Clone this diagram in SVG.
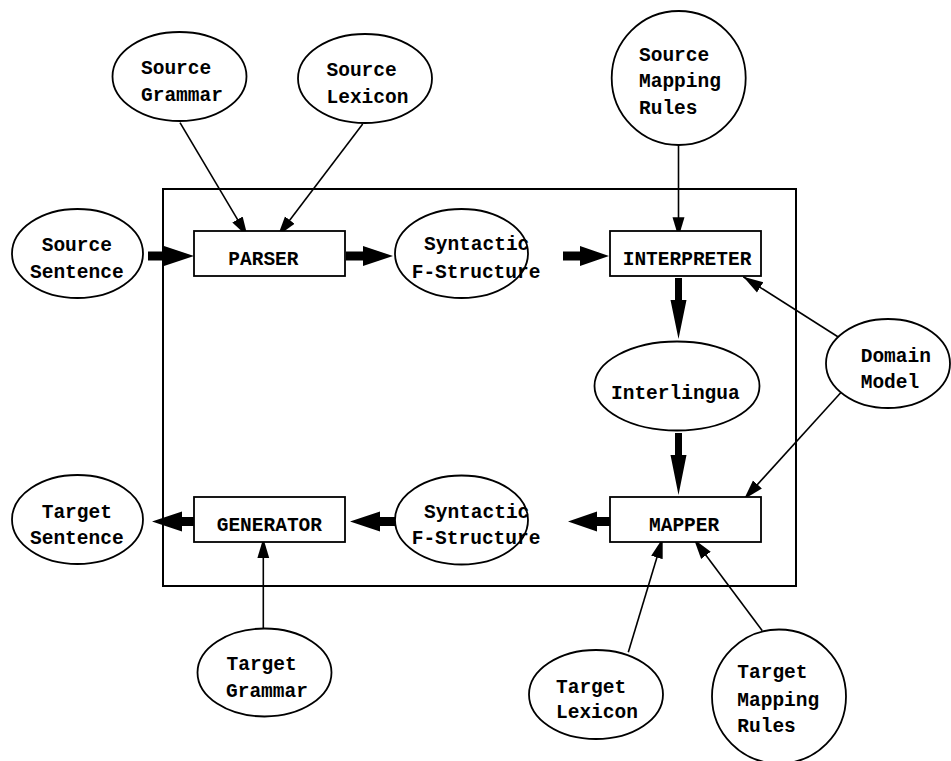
<svg xmlns="http://www.w3.org/2000/svg" width="951" height="761" viewBox="0 0 951 761">
<style>
.n{fill:#fff;stroke:#000;stroke-width:1.8}
.t{font-family:"Liberation Mono","Courier New",monospace;font-weight:bold;font-size:19.5px;fill:#000}
.thin{stroke:#000;stroke-width:1.6;fill:none;marker-end:url(#ah)}
.thick{fill:#000;stroke:none}
</style>
<defs>
<marker id="ah" markerUnits="userSpaceOnUse" markerWidth="22" markerHeight="14" refX="20" refY="6" orient="auto" viewBox="0 0 22 12">
<path d="M0,0 L20,6 L0,12 Z" fill="#000"/>
</marker>
</defs>
<rect x="163" y="189" width="633" height="397" fill="none" stroke="#000" stroke-width="2"/>
<g id="connectors">
<path class="thick" d="M148,251.5 H164 V246 L194,256 L164,266 V260.5 H148 Z"/>
<path class="thick" d="M346,251.5 H363 V246 L393,256 L363,266 V260.5 H346 Z"/>
<path class="thick" d="M563,251.5 H580 V246 L609,256 L580,266 V260.5 H563 Z"/>
<path class="thick" d="M675,278 V300 H670.5 L678.5,339 L686.5,300 H682 V278 Z"/>
<path class="thick" d="M675,433 V455 H670.5 L678.5,495 L686.5,455 H682 V433 Z"/>
<path class="thick" d="M614,517 H597 V511.5 L568,521.5 L597,531.5 V526 H614 Z"/>
<path class="thick" d="M397,517 H380 V511.5 L350,521.5 L380,531.5 V526 H397 Z"/>
<path class="thick" d="M198,517 H182 V511.5 L152,521.5 L182,531.5 V526 H198 Z"/>
<line class="thin" x1="180" y1="122.7" x2="247.7" y2="236.7"/>
<line class="thin" x1="362.7" y1="124" x2="277.7" y2="236"/>
<line class="thin" x1="678.5" y1="145" x2="678.5" y2="237.3"/>
<line class="thin" x1="845.7" y1="341.7" x2="743.3" y2="276.7"/>
<line class="thin" x1="845.7" y1="387.3" x2="744" y2="499.3"/>
<line class="thin" x1="263.3" y1="628.3" x2="263.3" y2="538.3"/>
<line class="thin" x1="628.3" y1="652.3" x2="662.7" y2="538.3"/>
<line class="thin" x1="762.3" y1="630.7" x2="694" y2="539.3"/>
</g>
<g id="source-grammar"><ellipse class="n" cx="179.5" cy="76.5" rx="67" ry="44.5"/><text class="t" x="141" y="74">Source</text><text class="t" x="141" y="100.7">Grammar</text></g>
<g id="source-lexicon"><ellipse class="n" cx="365" cy="78.5" rx="67" ry="44.5"/><text class="t" x="326.5" y="76">Source</text><text class="t" x="326.5" y="102.7">Lexicon</text></g>
<g id="source-sentence"><ellipse class="n" cx="77.5" cy="253.5" rx="65.5" ry="44.5"/><text class="t" x="41.7" y="250.7">Source</text><text class="t" x="30" y="278.3">Sentence</text></g>
<g id="parser"><rect class="n" x="194" y="231" width="151" height="45"/><text class="t" x="228.3" y="265">PARSER</text></g>
<g id="syntactic-top"><ellipse class="n" cx="461.5" cy="253.5" rx="66.5" ry="44.5"/><text class="t" x="424" y="250">Syntactic</text><text class="t" x="411.7" y="277.7">F-Structure</text></g>
<g id="source-mapping-rules"><circle class="n" cx="678.7" cy="78" r="67"/><text class="t" x="639" y="61">Source</text><text class="t" x="639" y="87.3">Mapping</text><text class="t" x="639" y="114">Rules</text></g>
<g id="interpreter"><rect class="n" x="610" y="231" width="151" height="45"/><text class="t" x="622.7" y="265">INTERPRETER</text></g>
<g id="interlingua"><ellipse class="n" cx="677" cy="386" rx="82.5" ry="44.5"/><text class="t" x="611" y="399.3">Interlingua</text></g>
<g id="domain-model"><ellipse class="n" cx="888" cy="363.5" rx="62" ry="44.5"/><text class="t" x="860.7" y="361.7">Domain</text><text class="t" x="860.7" y="388.3">Model</text></g>
<g id="mapper"><rect class="n" x="610" y="497" width="151" height="45"/><text class="t" x="649" y="530.7">MAPPER</text></g>
<g id="syntactic-bottom"><ellipse class="n" cx="461.5" cy="520" rx="66.5" ry="44.5"/><text class="t" x="424" y="517.7">Syntactic</text><text class="t" x="411.7" y="544.3">F-Structure</text></g>
<g id="generator"><rect class="n" x="194" y="497" width="151" height="45"/><text class="t" x="216.7" y="530.7">GENERATOR</text></g>
<g id="target-sentence"><ellipse class="n" cx="77.5" cy="519.5" rx="65.5" ry="44.5"/><text class="t" x="41.7" y="518.3">Target</text><text class="t" x="30" y="544.3">Sentence</text></g>
<g id="target-grammar"><ellipse class="n" cx="264.5" cy="672.5" rx="67" ry="44"/><text class="t" x="226.5" y="670">Target</text><text class="t" x="226" y="696.7">Grammar</text></g>
<g id="target-lexicon"><ellipse class="n" cx="596" cy="694.5" rx="67" ry="44.5"/><text class="t" x="556" y="692.7">Target</text><text class="t" x="556" y="718.3">Lexicon</text></g>
<g id="target-mapping-rules"><circle class="n" cx="779" cy="696.5" r="67"/><text class="t" x="737.3" y="678.3">Target</text><text class="t" x="737.3" y="705.7">Mapping</text><text class="t" x="737.3" y="732.3">Rules</text></g>
</svg>
